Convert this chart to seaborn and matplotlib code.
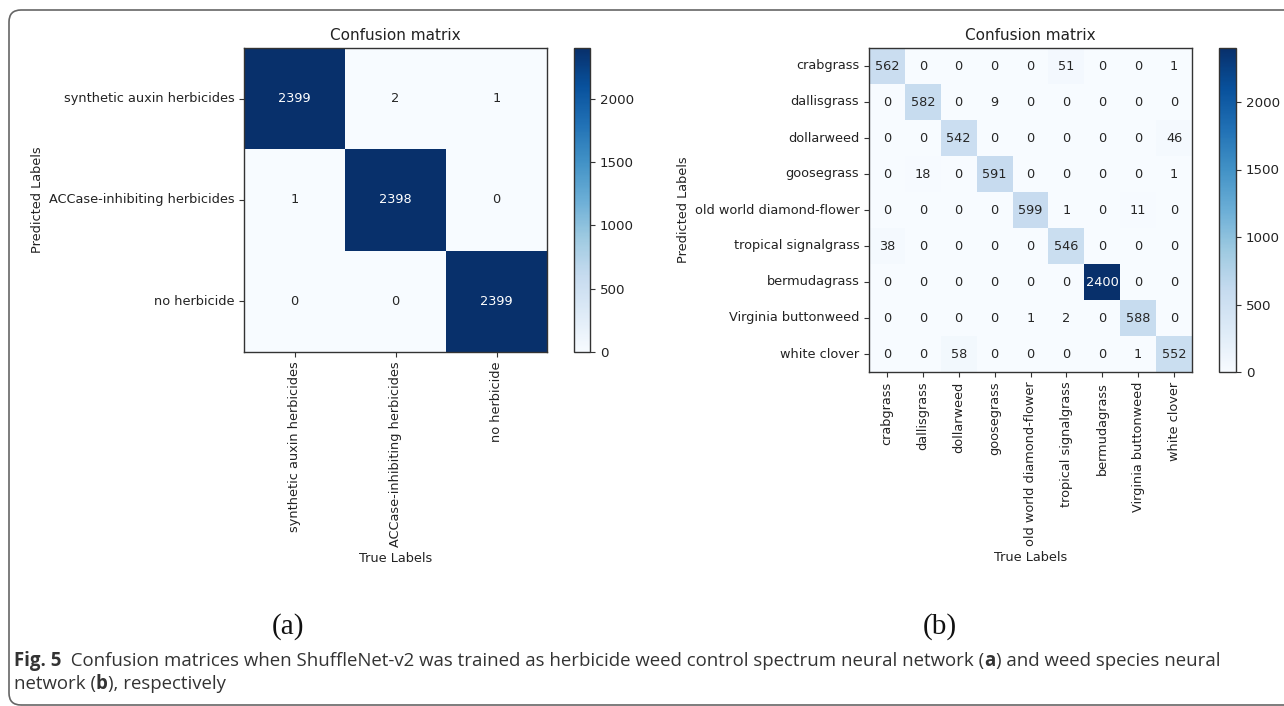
import numpy as np
import matplotlib
matplotlib.use("Agg")
import matplotlib.pyplot as plt
from matplotlib.patches import FancyBboxPatch
import seaborn as sns

# Herbicide weed-control spectrum network
herbicide_labels = ["synthetic auxin herbicides", "ACCase-inhibiting herbicides", "no herbicide"]
herbicide_cm = [
    [2399, 2, 1],
    [1, 2398, 0],
    [0, 0, 2399],
]

# Weed species network
species_labels = [
    "crabgrass", "dallisgrass", "dollarweed", "goosegrass",
    "old world diamond-flower", "tropical signalgrass", "bermudagrass",
    "Virginia buttonweed", "white clover",
]
species_cm = [
    [562, 0, 0, 0, 0, 51, 0, 0, 1],
    [0, 582, 0, 9, 0, 0, 0, 0, 0],
    [0, 0, 542, 0, 0, 0, 0, 0, 46],
    [0, 18, 0, 591, 0, 0, 0, 0, 1],
    [0, 0, 0, 0, 599, 1, 0, 11, 0],
    [38, 0, 0, 0, 0, 546, 0, 0, 0],
    [0, 0, 0, 0, 0, 0, 2400, 0, 0],
    [0, 0, 0, 0, 1, 2, 0, 588, 0],
    [0, 0, 58, 0, 0, 0, 0, 1, 552],
]

panel_tags = ["(a)", "(b)"]
caption_line1 = [
    ("Fig. 5", "bold"),
    ("  Confusion matrices when ShuffleNet-v2 was trained as herbicide weed control "
     "spectrum neural network (", "normal"),
    ("a", "bold"),
    (") and weed species neural", "normal"),
]
caption_line2 = [
    ("network (", "normal"),
    ("b", "bold"),
    ("), respectively", "normal"),
]

W, H = 1284, 706
FS = 9.3
fig = plt.figure(figsize=(W / 100, H / 100), dpi=100)
fig.patch.set_facecolor("white")


def px_axes(x0, y0, x1, y1):
    """Axes from pixel box (top-left origin)."""
    return fig.add_axes([x0 / W, 1 - y1 / H, (x1 - x0) / W, (y1 - y0) / H])


def draw_matrix(ax, cax, cm, labels):
    sns.heatmap(
        np.array(cm), ax=ax, cbar_ax=cax, cmap="Blues", annot=True, fmt="d",
        annot_kws={"size": FS}, xticklabels=labels, yticklabels=labels,
        square=False, linewidths=0,
    )
    ax.set_title("Confusion matrix", fontsize=11, color="#222222")
    ax.set_xlabel("True Labels", fontsize=FS, color="#222222", labelpad=3)
    ax.set_ylabel("Predicted Labels", fontsize=FS, color="#222222", labelpad=3)
    ax.tick_params(axis="both", labelsize=FS, length=3.5, width=0.8,
                   color="#333333", labelcolor="#222222")
    plt.setp(ax.get_xticklabels(), rotation=90)
    plt.setp(ax.get_yticklabels(), rotation=0)
    for sp in ax.spines.values():
        sp.set_visible(True)
        sp.set_linewidth(1.0)
        sp.set_edgecolor("#333333")
    cb = ax.collections[0].colorbar
    cb.outline.set_visible(True)
    cb.outline.set_linewidth(1.0)
    cb.outline.set_edgecolor("#333333")
    cb.ax.tick_params(labelsize=FS + 0.3, length=3.5, width=0.8, color="#333333",
                      labelcolor="#222222")


ax_a = px_axes(244, 48, 547, 352)
cax_a = px_axes(574, 48, 590, 352)
draw_matrix(ax_a, cax_a, herbicide_cm, herbicide_labels)

ax_b = px_axes(869, 48, 1192, 372)
cax_b = px_axes(1219, 48, 1236, 372)
draw_matrix(ax_b, cax_b, species_cm, species_labels)

# Panel tags
for tag, xc in zip(panel_tags, (288, 940)):
    fig.text(xc / W, 1 - 627 / H, tag, fontsize=21, family="Liberation Serif",
             ha="center", va="center", color="#111111")

# Caption with mixed weights
renderer = fig.canvas.get_renderer()


def write_line(parts, x_px, baseline_px):
    x = x_px
    for txt, weight in parts:
        t = fig.text(x / W, 1 - baseline_px / H, txt, fontsize=13.4, family="Open Sans",
                     weight=weight, color="#333333", ha="left", va="baseline")
        bb = t.get_window_extent(renderer=renderer)
        x += bb.width


write_line(caption_line1, 14, 666)
write_line(caption_line2, 14, 689)

# Rounded frame around the figure panel
frame = FancyBboxPatch((9, 1), 1320, 695, boxstyle="round,pad=0,rounding_size=12",
                       transform=None, fill=False, edgecolor="#666666", linewidth=1.2)
fig.patches.append(frame)

fig.savefig("out.png", dpi=100, facecolor="white")
